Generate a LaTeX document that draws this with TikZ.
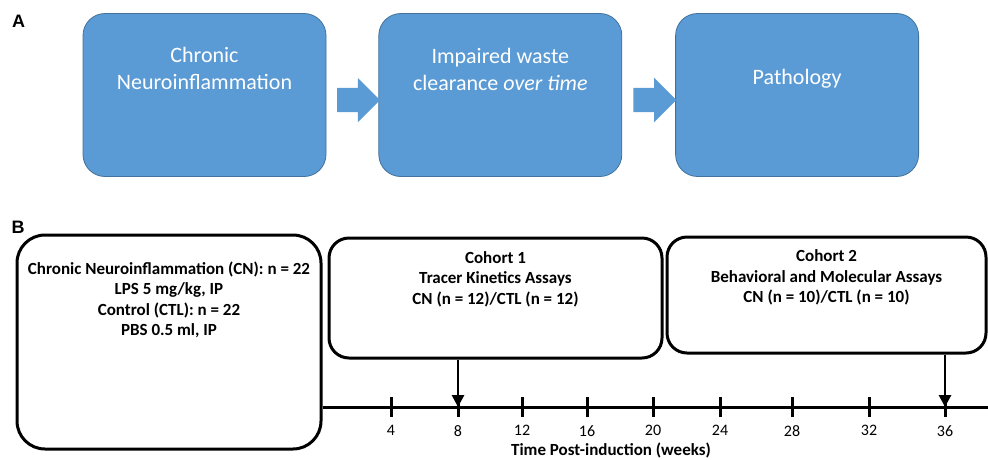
\documentclass[tikz,border=0pt]{standalone}
\usepackage{fontspec}
\setmainfont{Carlito}
\newfontfamily\panelfont{Liberation Sans}
\usetikzlibrary{arrows.meta,shapes.arrows,positioning,calc}
\definecolor{boxblue}{HTML}{5B9BD5}
\definecolor{boxedge}{HTML}{41719C}

\begin{document}
\begin{tikzpicture}[x=1pt,y=-1pt,
  stage/.style={draw=boxedge,line width=0.8pt,fill=boxblue,rounded corners=22pt,
    minimum width=243pt,minimum height=163pt,inner sep=0pt},
  stagetext/.style={text=white,align=center,font=\fontsize{22}{27}\selectfont},
  flow/.style={single arrow,fill=boxblue,draw=none,minimum height=43pt,
    inner xsep=0pt,inner ysep=12pt,single arrow head extend=10pt},
  plan/.style={draw,line width=3pt,inner sep=0pt},
  plantext/.style={align=center,font=\bfseries\fontsize{17}{20.5}\selectfont},
  panel/.style={font=\panelfont\bfseries\fontsize{18}{18}\selectfont}]
  \useasboundingbox (0,0) rectangle (988,459);
  \clip (0,0) rectangle (988,459);

  % A: concept
  \node[panel] (pa) at (18.5,21.5) {A};
  \node[stage] (cn) at (204.5,95) {};
  \node[stage,right=52pt of cn] (waste) {};
  \node[stage,right=53pt of waste] (path) {};
  \node[stagetext] at ([yshift=-55.5pt]cn.north) {Chronic\\Neuroinflammation};
  \node[stagetext] at ([yshift=-56pt]waste.north) {Impaired waste\\clearance \textit{over time}};
  \node[stagetext] at ([yshift=-66pt]path.north) {Pathology};
  \node[flow] (f1) at ($(cn.east)!0.5!(waste.west)+(0,5)$) {};
  \node[flow] (f2) at ($(waste.east)!0.5!(path.west)+(0,5)$) {};

  % B: timeline
  \node[panel] (pb) at (18,227) {B};
  \node[plan,rounded corners=28pt,minimum width=304pt,minimum height=214pt] (groups) at (169,342) {};
  \node[plan,rounded corners=20pt,minimum width=333pt,minimum height=120pt] (cohorta) at (495.5,298) {};
  \node[plan,rounded corners=20pt,minimum width=319pt,minimum height=116pt] (cohortb) at (826.5,295) {};
  \node[plantext] at ([yshift=-66.5pt]groups.north)
    {Chronic Neuroinflammation (CN): n = 22\\LPS 5 mg/kg, IP\\Control (CTL): n = 22\\PBS 0.5 ml, IP};
  \node[plantext] at ([yshift=-42.5pt]cohorta.north)
    {Cohort 1\\Tracer Kinetics Assays\\CN (n = 12)/CTL (n = 12)};
  \node[plantext] at ([yshift=-42pt]cohortb.north)
    {Cohort 2\\Behavioral and Molecular Assays\\CN (n = 10)/CTL (n = 10)};

  \coordinate (axisy) at (0,407);
  \coordinate (tend) at (1002,407);
  \draw[line width=3pt,-{Triangle[length=12pt,width=12pt]}] (groups.east |- axisy) -- (tend);
  \foreach \wk/\x in {4/391,8/458,12/522,16/587,20/653,24/720,28/792,32/869,36/945} {
    \coordinate (w\wk) at (\x,407);
    \draw[line width=3pt] (\x,397) -- (\x,417);
    \node[font=\fontsize{16}{16}\selectfont,below=5pt] at (\x,417) {\wk};
  }
  \node[font=\bfseries\fontsize{17}{17}\selectfont] (tlabel) at (611,450) {Time Post-induction (weeks)};

  \draw[line width=2.8pt,-{Triangle[length=12pt,width=12pt]}] (w8 |- cohorta.south) -- (w8);
  \draw[line width=2.8pt,-{Triangle[length=12pt,width=12pt]}] (w36 |- cohortb.south) -- (w36);
\end{tikzpicture}
\end{document}
